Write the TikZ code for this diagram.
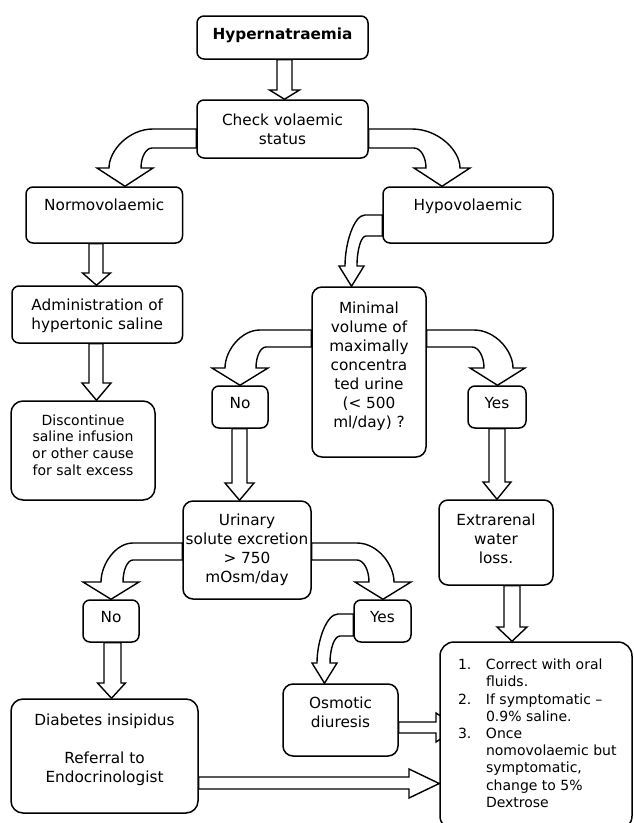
\documentclass[tikz,border=0pt]{standalone}
\usepackage{fontspec}
\setmainfont{DejaVu Sans}
\pgfdeclarelayer{bg}
\pgfsetlayers{bg,main}
\newcommand\tb[4]{\parbox[c][#2pt][t]{#1pt}{\centering\vspace*{#3pt}#4\par}}
\begin{document}
\begin{tikzpicture}[x=1pt,y=-1pt,
  box/.style={draw=black, line width=1.5pt, fill=white, rounded corners=7pt, inner sep=0pt,
    font=\fontsize{15.3}{19}\selectfont, text=black},
  small/.style={font=\fontsize{14}{16.7}\selectfont},
  blk/.style={draw=black, fill=white, line width=1.4pt, line join=miter}]
\useasboundingbox (0,0) rectangle (633,823);
\clip (0,0) rectangle (633,823);

% boxes
\node[box,font=\bfseries\fontsize{15.3}{19}\selectfont] (hyper) at (282.5,37.5) {\tb{171}{43}{11.4}{Hypernatraemia}};
\node[box] (check) at (282.5,129) {\tb{171}{58}{13.9}{Check volaemic\\status}};
\node[box] (normo) at (104.25,215) {\tb{156.5}{56}{11.5}{Normovolaemic}};
\node[box] (hypo) at (468,215) {\tb{170}{56}{11.5}{Hypovolaemic}};
\node[box] (admin) at (97.25,314.5) {\tb{170.5}{57}{12.4}{Administration of\\hypertonic saline}};
\node[box,rounded corners=10pt] (minimal) at (369,372) {\tb{114}{170}{14.4}{Minimal\\volume of\\maximally\\concentra\\ted urine\\(< 500\\ml/day) ?}};
\node[box] (no1) at (240,407) {\tb{56}{42}{11.4}{No}};
\node[box] (yes1) at (497,407) {\tb{58}{42}{11.4}{Yes}};
\node[box,small,rounded corners=12pt] (disc) at (83,450.5) {\tb{144}{99}{13.4}{Discontinue\\saline infusion\\or other cause\\for salt excess}};
\node[box,rounded corners=10pt] (urin) at (247,550) {\tb{128}{98}{12.4}{Urinary\\solute excretion\\> 750\\mOsm/day}};
\node[box,rounded corners=9pt] (extra) at (496,542.5) {\tb{114}{85}{13.4}{Extrarenal\\water\\loss.}};
\node[box] (no2) at (111,621) {\tb{56}{42}{11.4}{No}};
\node[box] (yes2) at (382.5,621) {\tb{57}{42}{11.4}{Yes}};
\node[box,rounded corners=12pt] (diab) at (104.5,756) {\tb{187}{114}{14.4}{Diabetes insipidus\\[19pt]Referral to\\Endocrinologist}};
\node[box,rounded corners=10pt] (osm) at (340.5,720) {\tb{115}{72}{12.4}{Osmotic\\diuresis}};
\node[box,rounded corners=14pt,font=\fontsize{14}{17.2}\selectfont] (final) at (536,736)
  {\parbox[c][188pt][t]{192pt}{\raggedright\vspace*{17pt}%
   \hspace*{18pt}\makebox[28pt][l]{1.}Correct with oral\\
   \hspace*{46pt}fluids.\\
   \hspace*{18pt}\makebox[28pt][l]{2.}If symptomatic –\\
   \hspace*{46pt}0.9\% saline.\\
   \hspace*{18pt}\makebox[28pt][l]{3.}Once\\
   \hspace*{46pt}nomovolaemic but\\
   \hspace*{46pt}symptomatic,\\
   \hspace*{46pt}change to 5\%\\
   \hspace*{46pt}Dextrose\par}};

\begin{pgfonlayer}{bg}
\fill[white] (0,0) rectangle (633,823);
% straight block arrows
\foreach \na/\nb/\xl/\xr/\xt/\hw/\yh in {
  hyper/check/277/292/284.5/15/90,
  normo/admin/89/103/96.5/14/273,
  admin/disc/89/103/96.5/14.5/383,
  no1/urin/232/247/239.5/14.5/483,
  yes1/extra/489/505/497/14/482,
  no2/diab/104/121/111.5/14/683,
  extra/final/504/520/512/15/627}
  \filldraw[blk] (\na.south -| \xl,0) -- (\xl,\yh) -- ({\xt-\hw},\yh) -- (\nb.north -| \xt,0)
     -- ({\xt+\hw},\yh) -- (\xr,\yh) -- (\na.south -| \xr,0) -- cycle;
% curved block arrows
\foreach \na/\nb/\yo/\yi/\xa/\xo/\xb/\xi/\yh/\hw/\xt/\sg in {
  check.west/normo/129/148/153/109/152/141/168/28/125/-1,
  check.east/hypo/129/148/412/460/414/426/168/28/442/1,
  hypo.west/minimal/215/236/365/345/366/357/266/12.5/351.5/-1,
  minimal.west/no1/330/347/260/225/266/256/368/28/240/-1,
  minimal.east/yes1/330/347/474/513/472/484/368/27.5/497.5/1,
  urin.west/no2/543/560/133/101/133/123/582/28/111/-1,
  urin.east/yes2/543/560/357/394/357/369/582/28/383/1,
  yes2.west/osm/614/636/338/317/340/330/663/12.5/324.5/-1}
  \filldraw[blk] (\na |- 0,\yo) -- (\xa,\yo)
     .. controls ({\xa+0.55*(\xo-\xa)},\yo) and (\xo,{\yo+0.55*(\yh-\yo)}) .. (\xo,\yh)
     -- ({\xt+(\sg)*\hw},\yh) -- (\nb.north -| \xt,0) -- ({\xt-(\sg)*\hw},\yh) -- (\xi,\yh)
     .. controls (\xi,{\yh-0.55*(\yh-\yi)}) and ({\xb+0.55*(\xi-\xb)},\yi) .. (\xb,\yi)
     -- (\na |- 0,\yi) -- cycle;
% horizontal block arrows into the final box
\coordinate (osmtip) at (458,727.5);
\filldraw[blk] (osm.east |- 0,722) -- (436,722) -- (436,713) -- (osmtip) -- (436,742)
   -- (436,733) -- (osm.east |- 0,733) -- cycle;
\filldraw[blk] (diab.east |- 0,777) -- (409,777) -- (409,769) -- (final.west |- 0,783.5)
   -- (409,798) -- (409,789) -- (diab.east |- 0,789) -- cycle;
\end{pgfonlayer}
\end{tikzpicture}
\end{document}
